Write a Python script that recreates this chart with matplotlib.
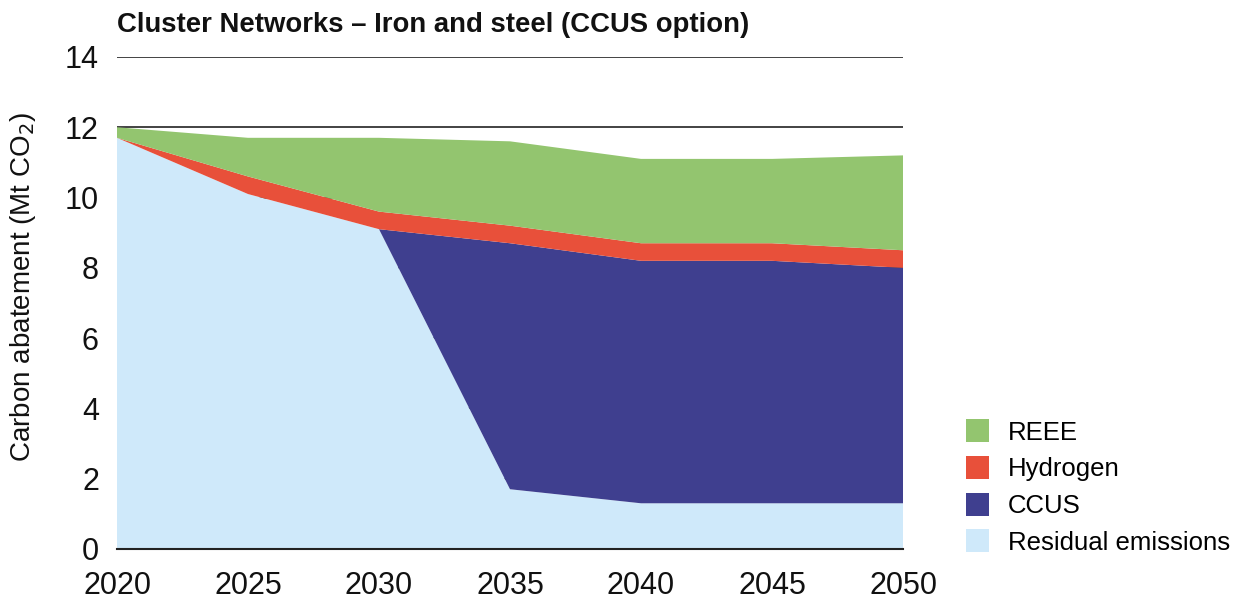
import numpy as np
import matplotlib.pyplot as plt
from matplotlib.patches import Patch

# Years and stacked abatement components (Mt CO2)
years = [2020, 2025, 2030, 2035, 2040, 2045, 2050]
residual = [11.7, 10.1, 9.1, 1.7, 1.3, 1.3, 1.3]
ccus = [0.0, 0.0, 0.0, 7.0, 6.9, 6.9, 6.7]
hydrogen = [0.0, 0.5, 0.5, 0.5, 0.5, 0.5, 0.5]
reee = [0.3, 1.1, 2.1, 2.4, 2.4, 2.4, 2.7]

labels = ['Residual emissions', 'CCUS', 'Hydrogen', 'REEE']
colors = ['#cfe9fa', '#3f3f8f', '#e8503a', '#93c56f']

plt.rcParams['font.family'] = ['Liberation Sans', 'DejaVu Sans']

fig = plt.figure(figsize=(12.5, 6.03), dpi=100)
ax = fig.add_axes([0.0936, 0.0896, 0.6288, 0.8159])

ax.stackplot(years, residual, ccus, hydrogen, reee, colors=colors,
             linewidth=0, zorder=2)

ax.set_xlim(2020, 2050)
ax.set_ylim(0, 14)
ax.set_xticks(years)
ax.set_yticks(np.arange(0, 15, 2))
ax.yaxis.grid(True, color='#222222', linewidth=1.2, zorder=1)
ax.set_axisbelow(True)

for s in ['top', 'right', 'left']:
    ax.spines[s].set_visible(False)
ax.spines['bottom'].set_color('#222222')
ax.spines['bottom'].set_linewidth(1.5)
ax.spines['bottom'].set_zorder(3)

ax.tick_params(axis='x', length=0, labelsize=22, pad=16, colors='#111111')
ax.tick_params(axis='y', length=0, labelsize=22, pad=13, colors='#111111')

ax.set_ylabel('Carbon abatement (Mt CO$_2$)', fontsize=20, color='#111111')
ax.yaxis.set_label_coords(-0.1, 0.532)

fig.text(0.0936, 0.958, 'Cluster Networks \u2013 Iron and steel (CCUS option)',
         fontsize=19.8, fontweight='bold', family=['Liberation Sans Narrow', 'Liberation Sans'],
         ha='left', va='center', color='#111111')

handles = [Patch(facecolor=c, edgecolor='none') for c in colors[::-1]]
fig.legend(handles, labels[::-1], loc='lower left',
           bbox_to_anchor=(0.754, 0.042), frameon=False, fontsize=18.5,
           handlelength=0.9, handleheight=1.0, handletextpad=0.75,
           labelspacing=0.44)

fig.savefig('out.png', dpi=100)
